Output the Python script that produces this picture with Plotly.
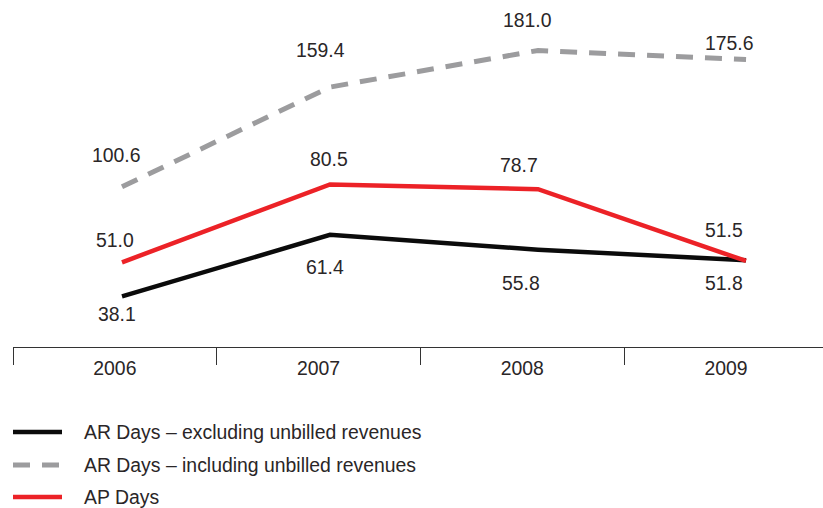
import plotly.graph_objects as go

# Days metrics by financial year
years = [2006, 2007, 2008, 2009]
ar_excl_unbilled = [38.1, 61.4, 55.8, 51.8]
ar_incl_unbilled = [100.6, 159.4, 181.0, 175.6]
ap_days = [51.0, 80.5, 78.7, 51.5]

series_names = [
    "AR Days – excluding unbilled revenues",
    "AR Days – including unbilled revenues",
    "AP Days",
]

BLACK = "#0b0b0b"
GREY = "#9c9c9e"
RED = "#ec2227"
TEXT = "#2a2627"
FONT = "Liberation Sans"
FSIZE = 19.4

W, H = 823, 508
L, B = 13, 161
PW, PH = W - L, H - B

fig = go.Figure()

# lines live on x / y (black, red) and x / y2 (grey); the labelled
# category axis is x2, overlaid on x
fig.add_trace(go.Scatter(
    x=years, y=ar_incl_unbilled, mode="lines", name=series_names[1],
    xaxis="x", yaxis="y2",
    line=dict(color=GREY, width=5, dash="17px,12px"),
))
fig.add_trace(go.Scatter(
    x=years, y=ar_excl_unbilled, mode="lines", name=series_names[0],
    xaxis="x", yaxis="y",
    line=dict(color=BLACK, width=4.5),
))
fig.add_trace(go.Scatter(
    x=years, y=ap_days, mode="lines", name=series_names[2],
    xaxis="x", yaxis="y",
    line=dict(color=RED, width=4.5),
))

# value labels, nudged off the lines (pixel offsets)
label_sets = [
    (ar_incl_unbilled, "y2", [2, 2, 5, 3], [32, 37, 30, 17]),
    (ap_days, "y", [0, 10, -3, -2], [22, 25, 24, 31]),
    (ar_excl_unbilled, "y", [2, 6, -1, -2], [-18, -32, -33, -23]),
]
annotations = []
for vals, yref, dxs, dys in label_sets:
    for yr, v, dx, dy in zip(years, vals, dxs, dys):
        annotations.append(dict(
            x=yr, y=v, xref="x2", yref=yref, text=f"{v:.1f}",
            showarrow=False, xshift=dx, yshift=dy,
            font=dict(family=FONT, size=FSIZE, color=TEXT),
        ))

# hand-drawn legend below the axis
legend_rows = [
    (series_names[0], BLACK, "solid", 4.5, 432),
    (series_names[1], GREY, "17px,12px", 5, 465),
    (series_names[2], RED, "solid", 4.5, 497),
]
shapes = []
for name, col, dash, lw, py in legend_rows:
    yp = (PH - py) / PH
    shapes.append(dict(
        type="line", xref="paper", yref="paper",
        x0=0, x1=(62 - L) / PW, y0=yp, y1=yp,
        line=dict(color=col, width=lw, dash=dash),
    ))
    annotations.append(dict(
        x=(82 - L) / PW, y=yp, xref="paper", yref="paper",
        text=name, showarrow=False, xanchor="left", yanchor="middle",
        font=dict(family=FONT, size=FSIZE, color=TEXT),
    ))

fig.update_layout(
    width=W, height=H,
    margin=dict(l=L, r=0, t=0, b=B),
    paper_bgcolor="white", plot_bgcolor="white",
    showlegend=False,
    font=dict(family=FONT, size=FSIZE, color=TEXT),
    xaxis=dict(range=[2005.476, 2009.370], visible=False),
    xaxis2=dict(
        overlaying="x", anchor="y", side="bottom",
        range=[2005.5, 2009.476], tickmode="array", tickvals=years,
        ticktext=[str(y) for y in years], ticks="",
        showgrid=False, zeroline=False,
        showline=True, linecolor="#333333", linewidth=1.3,
        ticklabelstandoff=4,
        tickfont=dict(family=FONT, size=FSIZE, color=TEXT),
        minor=dict(tickmode="array", tickvals=[2005.5, 2006.5, 2007.5, 2008.5],
                   ticks="outside", ticklen=17, tickwidth=1.3, tickcolor="#333333",
                   showgrid=False),
    ),
    yaxis=dict(range=[18.92, 150.36], visible=False),
    yaxis2=dict(overlaying="y", range=[6.15, 210.75], visible=False),
    annotations=annotations,
    shapes=shapes,
)

fig.write_html("out.html")
